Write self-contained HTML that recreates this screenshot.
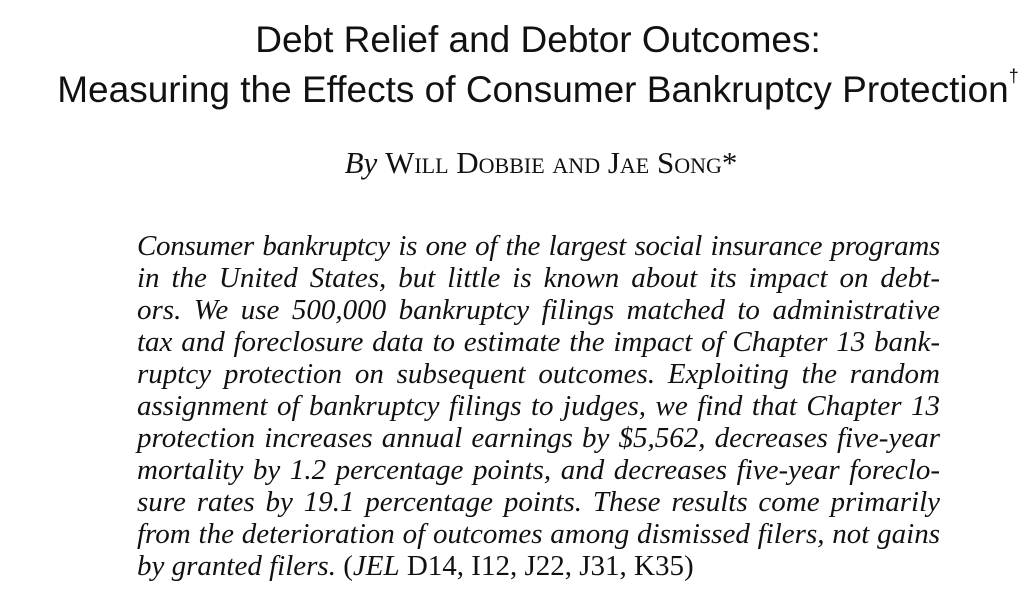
<!DOCTYPE html>
<html>
<head>
<meta charset="utf-8">
<style>
  html,body{margin:0;padding:0;background:#fff;}
  body{width:1032px;height:590px;position:relative;overflow:hidden;color:#111;}
  .title{position:absolute;left:0;width:1032px;text-align:center;font-family:"Liberation Sans",Arial,sans-serif;font-size:37px;white-space:nowrap;line-height:1;}
  .title sup{font-size:18px;vertical-align:top;position:relative;top:-4px;}
  .byline{position:absolute;left:0;width:1082px;text-align:center;font-family:"Liberation Serif","Times New Roman",serif;font-size:31px;top:147px;line-height:1;}
  .byline i{font-style:italic;}
  .sc{font-variant:small-caps;}
  .abs{position:absolute;left:137px;width:803px;font-family:"Liberation Serif","Times New Roman",serif;font-style:italic;font-size:29px;line-height:1;}
  .abs .ln{position:absolute;left:0;width:803px;white-space:nowrap;text-align:justify;text-align-last:justify;}
  .abs .ln.last{text-align-last:left;text-align:left;}
  .up{font-style:normal;}
</style>
</head>
<body>
<div class="title" style="top:21px;left:22px;">Debt Relief and Debtor Outcomes:</div>
<div class="title" style="top:71px;left:22px;">Measuring the Effects of Consumer Bankruptcy Protection<sup>†</sup></div>
<div class="byline"><i>By</i> <span class="sc">Will Dobbie and Jae Song</span>*</div>
<div class="abs">
  <div class="ln" style="top:232px;letter-spacing:-0.3px;">Consumer bankruptcy is one of the largest social insurance programs</div>
  <div class="ln" style="top:264px;">in the United States, but little is known about its impact on debt-</div>
  <div class="ln" style="top:296px;">ors. We use 500,000 bankruptcy filings matched to administrative</div>
  <div class="ln" style="top:328px;">tax and foreclosure data to estimate the impact of Chapter 13 bank-</div>
  <div class="ln" style="top:360px;">ruptcy protection on subsequent outcomes. Exploiting the random</div>
  <div class="ln" style="top:392px;">assignment of bankruptcy filings to judges, we find that Chapter 13</div>
  <div class="ln" style="top:424px;">protection increases annual earnings by $5,562, decreases five-year</div>
  <div class="ln" style="top:456px;">mortality by 1.2 percentage points, and decreases five-year foreclo-</div>
  <div class="ln" style="top:488px;">sure rates by 19.1 percentage points. These results come primarily</div>
  <div class="ln" style="top:520px;">from the deterioration of outcomes among dismissed filers, not gains</div>
  <div class="ln last" style="top:552px;">by granted filers. <span class="up">(</span>JEL<span class="up"> D14, I12, J22, J31, K35)</span></div>
</div>
</body>
</html>
